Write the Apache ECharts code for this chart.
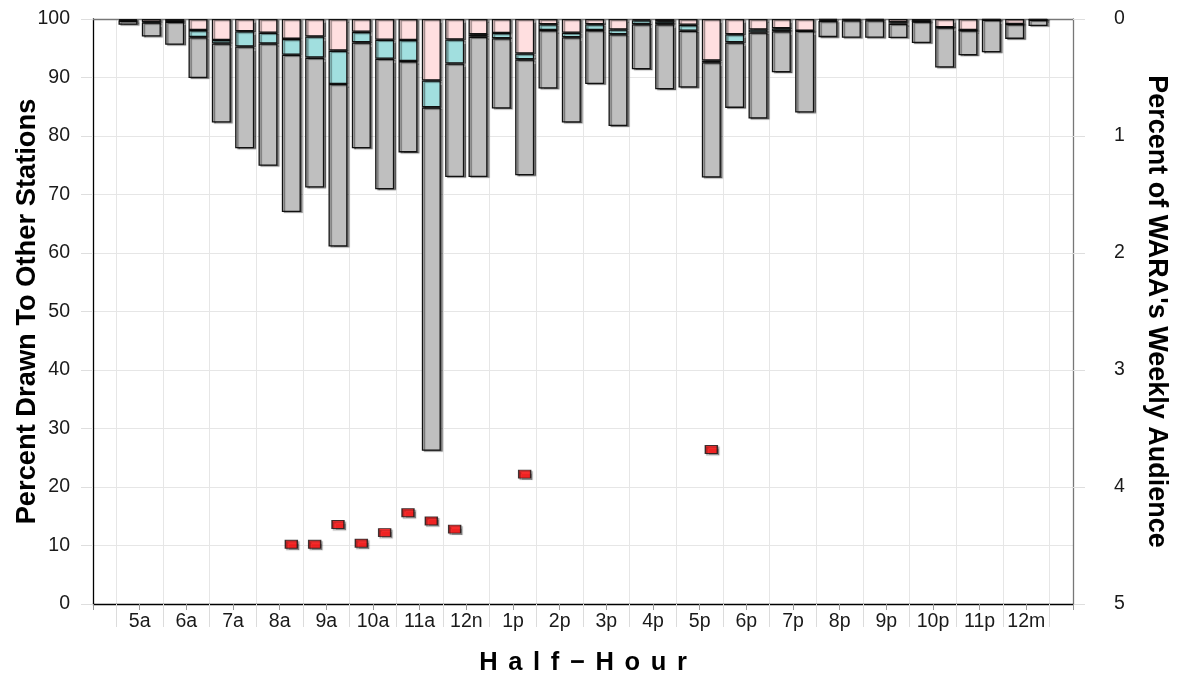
<!DOCTYPE html>
<html>
<head>
<meta charset="utf-8">
<script src="https://cdn.jsdelivr.net/npm/echarts@6/dist/echarts.min.js"></script>
<style>
html,body{margin:0;padding:0;background:#fff;}
#chart{width:1187px;height:677px;}
</style>
</head>
<body>
<div id="chart"></div>
<script>
// Half-hour slots (slot 0 and 41 are empty padding)
const slots = [' ', '5:00a','5:30a','6:00a','6:30a','7:00a','7:30a','8:00a','8:30a','9:00a','9:30a',
  '10:00a','10:30a','11:00a','11:30a','12:00n','12:30n','1:00p','1:30p','2:00p','2:30p',
  '3:00p','3:30p','4:00p','4:30p','5:00p','5:30p','6:00p','6:30p','7:00p','7:30p',
  '8:00p','8:30p','9:00p','9:30p','10:00p','10:30p','11:00p','11:30p','12:00m','12:30m','  '];

// Hour tick labels (placed between each pair of half-hour bars)
const hourLabels = ['5a','6a','7a','8a','9a','10a','11a','12n','1p','2p','3p','4p','5p','6p','7p','8p','9p','10p','11p','12m'];

// Level where each bar ends (bottom of the gray part), left axis
const barBottom = [null, 99.0, 97.0, 95.6, 89.9, 82.3, 77.9, 74.9, 67.0, 71.2, 61.1,
  77.9, 70.9, 77.2, 26.2, 73.0, 73.0, 84.7, 73.3, 88.1, 82.3,
  88.9, 81.7, 91.4, 88.0, 88.3, 72.9, 84.8, 83.0, 90.9, 84.0,
  96.9, 96.8, 96.8, 96.75, 95.9, 91.7, 93.8, 94.3, 96.6, 98.8, null];

// Top of the gray part
const grayTop = [null, 99.7, 99.4, 99.55, 96.9, 95.8, 95.3, 95.8, 93.9, 93.4, 88.9,
  96.0, 93.2, 92.8, 84.9, 92.4, 96.97, 96.7, 93.1, 98.1, 96.87,
  98.1, 97.4, 99.1, 99.1, 98.0, 92.6, 96.0, 97.7, 97.9, 98.0,
  99.66, 99.8, 99.8, 99.2, 99.6, 98.6, 98.1, 99.9, 99.15, 99.9, null];

// Top of the cyan part (pink fills up to 100)
const cyanTop = [null, 99.8, 99.5, 99.6, 98.1, 96.4, 97.9, 97.66, 96.6, 97.0, 94.6,
  97.8, 96.46, 96.4, 89.5, 96.5, 97.4, 97.6, 94.1, 99.1, 97.66,
  99.1, 98.2, 99.8, 99.6, 99.0, 92.9, 97.4, 98.2, 98.4, 98.0,
  99.85, 99.9, 99.9, 99.45, 99.6, 98.6, 98.1, 99.9, 99.15, 99.9, null];

// Percent of WARA's weekly audience (right axis) markers
const markerSlots  = ['8:30a','9:00a','9:30a','10:00a','10:30a','11:00a','11:30a','12:00n','1:30p','5:30p'];
const markerValues = [4.49, 4.49, 4.32, 4.48, 4.39, 4.22, 4.29, 4.36, 3.89, 3.68];

const FONT = '"Liberation Sans", Arial, sans-serif';
const SP = '\u2004\u200A';

const baseData = barBottom.map(v => v == null ? null : v);
const grayData = barBottom.map((v, i) => v == null ? null : +(grayTop[i] - v).toFixed(3));
const cyanData = barBottom.map((v, i) => v == null ? null : +(cyanTop[i] - grayTop[i]).toFixed(3));
const pinkData = barBottom.map((v, i) => v == null ? null : +(100 - cyanTop[i]).toFixed(3));

const segStyle = (color) => ({
  color: color,
  borderColor: '#111',
  borderWidth: 1.3,
  shadowColor: 'rgba(0,0,0,0.45)',
  shadowBlur: 1,
  shadowOffsetX: 2,
  shadowOffsetY: 1
});

const chart = echarts.init(document.getElementById('chart'), null, {renderer: 'canvas'});
chart.setOption({
  animation: false,
  backgroundColor: '#fff',
  grid: {left: 93, right: 114, top: 19, bottom: 73, containLabel: false, outerBoundsMode: 'none'},
  xAxis: [
    {
      type: 'value', min: 0, max: 42, interval: 2, position: 'bottom',
      axisLine: {show: true, onZero: false, lineStyle: {color: '#000', width: 1.3}},
      axisTick: {show: true, length: 6, lineStyle: {color: '#999', width: 1}},
      minorTick: {show: true, splitNumber: 2, length: 23, lineStyle: {color: '#dcdcdc', width: 1}},
      minorSplitLine: {show: true, lineStyle: {color: '#e6e6e6', width: 1}},
      splitLine: {show: false},
      axisLabel: {
        show: true, margin: 8, fontSize: 19.5, color: '#1a1a1a', fontFamily: FONT,
        showMinLabel: false, showMaxLabel: false,
        formatter: function (v) {
          const k = Math.round(v / 2) - 1;
          return (k >= 0 && k < hourLabels.length) ? hourLabels[k] : '';
        }
      },
      name: ['H','a','l','f','−','H','o','u','r'].join(SP), nameLocation: 'middle', nameGap: 46,
      nameMoveOverlap: false,
      nameTextStyle: {fontSize: 25.5, fontWeight: 'bold', color: '#000', fontFamily: FONT}
    },
    {
      type: 'category', data: slots, position: 'top', boundaryGap: true,
      axisLine: {show: true, onZero: false, lineStyle: {color: '#777', width: 1.3}},
      axisTick: {show: false}, axisLabel: {show: false}, splitLine: {show: false}
    }
  ],
  yAxis: [
    {
      type: 'value', min: 0, max: 100, interval: 10, position: 'left',
      axisLine: {show: true, onZero: false, lineStyle: {color: '#000', width: 1.3}},
      axisTick: {show: true, length: 12, lineStyle: {color: '#dedede'}},
      splitLine: {show: true, lineStyle: {color: '#e6e6e6', width: 1}},
      axisLabel: {fontSize: 19.5, color: '#1a1a1a', fontFamily: FONT, margin: 23},
      name: 'Percent Drawn To Other Stations', nameLocation: 'middle', nameGap: 52,
      nameMoveOverlap: false,
      nameTextStyle: {fontSize: 27.3, fontWeight: 'bold', color: '#000', fontFamily: FONT}
    },
    {
      type: 'value', min: 0, max: 5, interval: 1, position: 'right', inverse: true,
      axisLine: {show: true, onZero: false, lineStyle: {color: '#777', width: 1.3}},
      axisTick: {show: true, length: 12, lineStyle: {color: '#dedede'}},
      splitLine: {show: false},
      axisLabel: {fontSize: 19.5, color: '#1a1a1a', fontFamily: FONT, margin: 41},
      name: "Percent of WARA's Weekly Audience", nameLocation: 'middle', nameGap: 70,
      nameRotate: -90,
      nameTextStyle: {fontSize: 27, fontWeight: 'bold', color: '#000', fontFamily: FONT}
    }
  ],
  series: [
    {
      name: 'base', type: 'bar', stack: 'drawn', xAxisIndex: 1, yAxisIndex: 0,
      barWidth: 19, silent: true, data: baseData,
      itemStyle: {color: 'rgba(0,0,0,0)', borderWidth: 0}
    },
    {
      name: 'gray', type: 'bar', stack: 'drawn', xAxisIndex: 1, yAxisIndex: 0,
      barWidth: 19, data: grayData, itemStyle: segStyle('#bfbfbf')
    },
    {
      name: 'cyan', type: 'bar', stack: 'drawn', xAxisIndex: 1, yAxisIndex: 0,
      barWidth: 19, data: cyanData, itemStyle: segStyle('#a1dfdf')
    },
    {
      name: 'pink', type: 'bar', stack: 'drawn', xAxisIndex: 1, yAxisIndex: 0,
      barWidth: 19, data: pinkData, itemStyle: segStyle('#ffdfe0')
    },
    {
      name: 'audience', type: 'scatter', xAxisIndex: 1, yAxisIndex: 1,
      symbol: 'rect', symbolSize: [12, 8],
      data: markerSlots.map((s, i) => [s, markerValues[i]]),
      itemStyle: {color: '#ff0000', borderColor: '#111', borderWidth: 1.2,
        shadowColor: 'rgba(0,0,0,0.4)', shadowBlur: 1, shadowOffsetX: 1.5, shadowOffsetY: 1.5},
      z: 5
    }
  ]
});
</script>
</body>
</html>
